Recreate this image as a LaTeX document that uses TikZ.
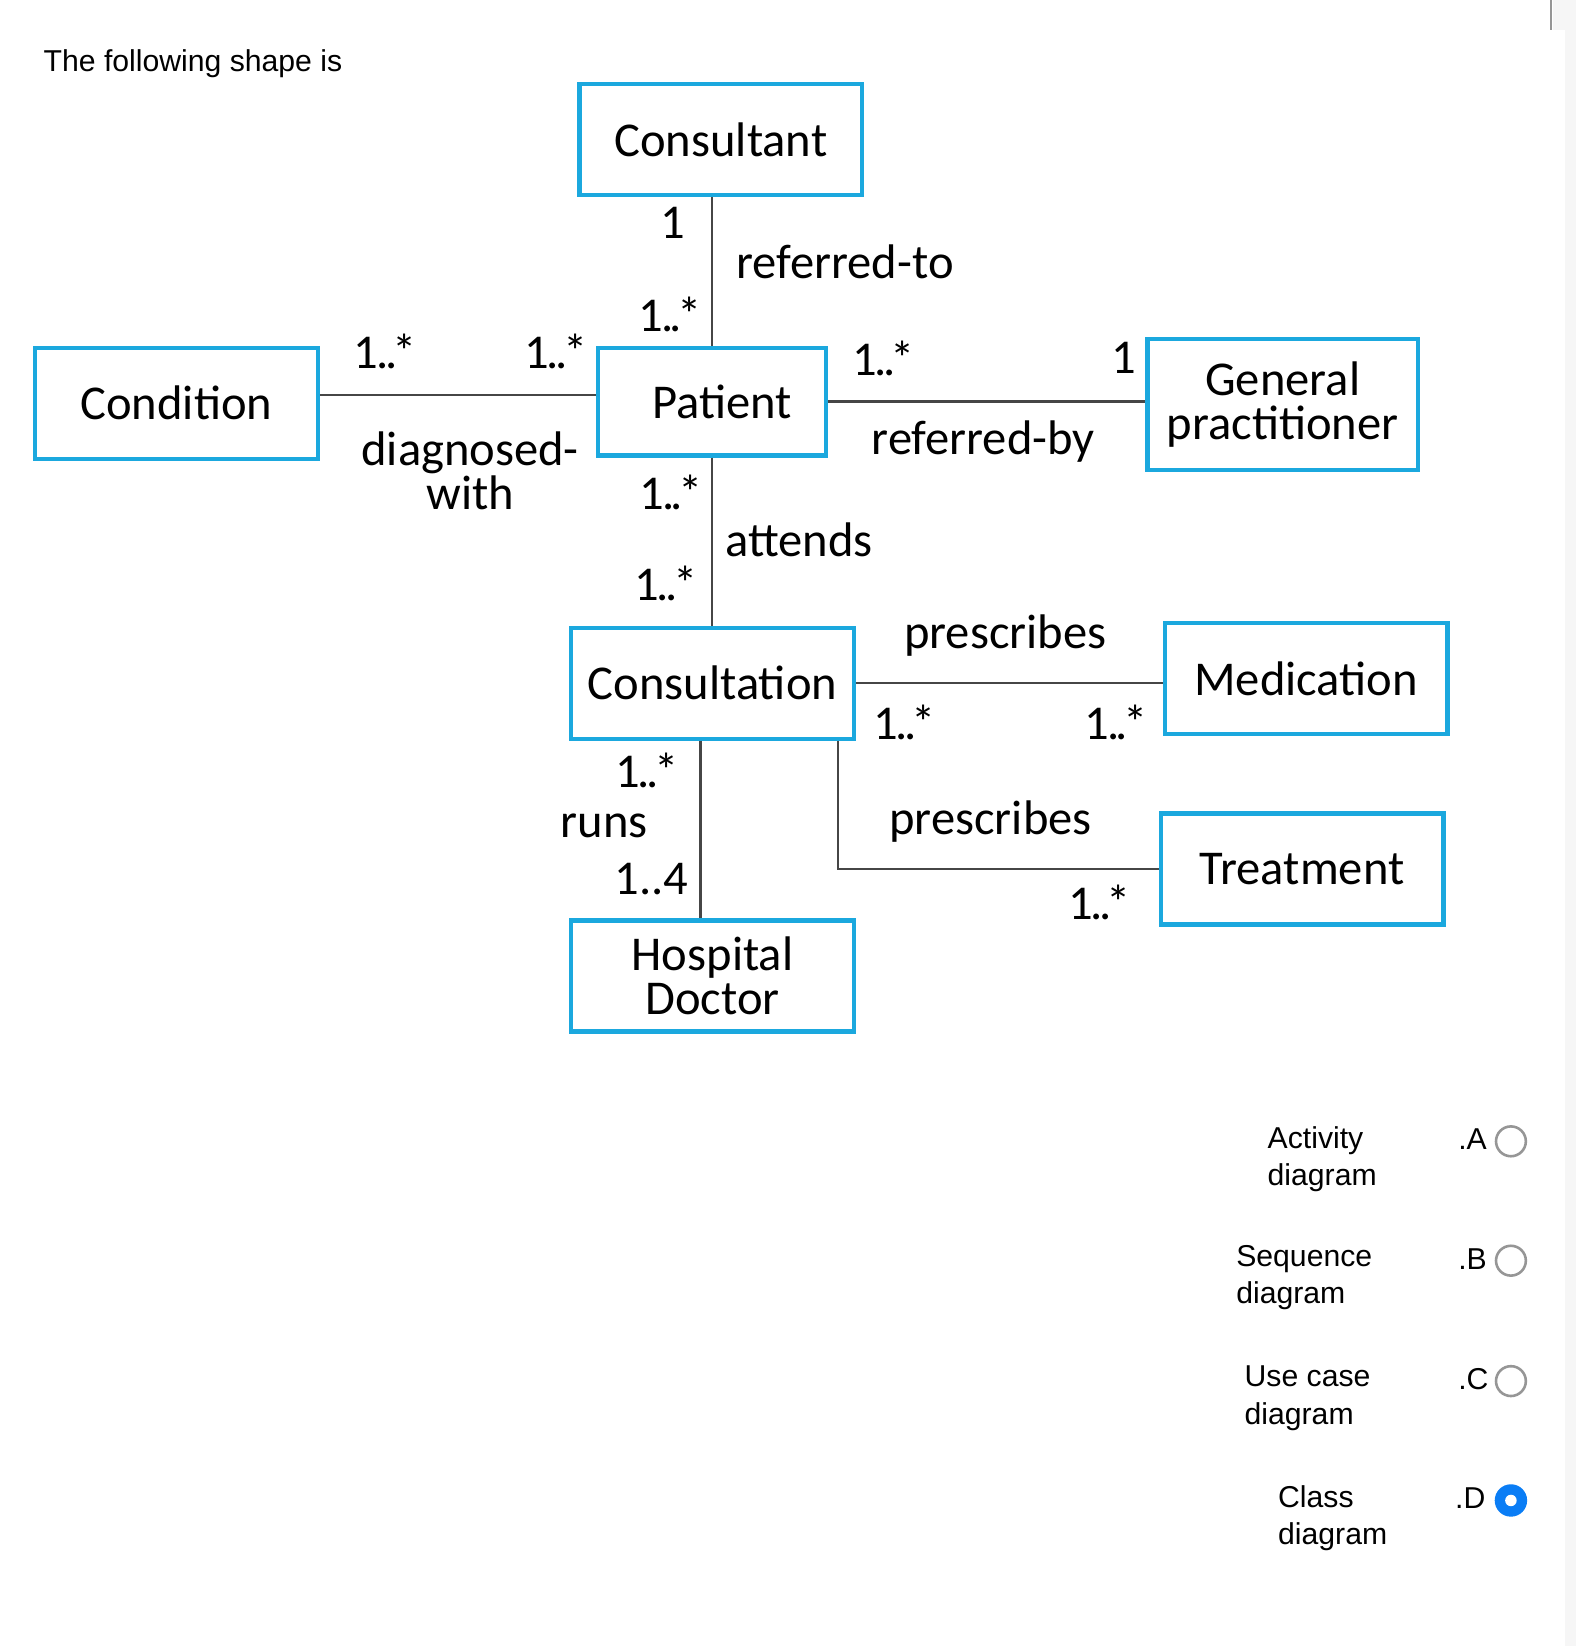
\documentclass[tikz,border=0pt]{standalone}
\usepackage{fontspec}
\setmainfont{Carlito}
\newfontfamily\quizfont{Liberation Sans}
\definecolor{boxBlue}{RGB}{27, 168, 222}
\definecolor{lineGray}{RGB}{70, 70, 70}
\definecolor{radioGray}{RGB}{150, 150, 150}
\definecolor{radioBlue}{RGB}{10, 125, 245}
\definecolor{stripGray}{RGB}{246, 246, 246}
\newcommand{\mlt}{1\kern-0.05em.\kern-0.07em.\kern-0.1em*}

\tikzset{
	cls/.style={draw=boxBlue, line width=1.15pt, minimum width=2.70cm, minimum height=1.06cm, align=center, inner sep=0pt, font=\fontsize{13.2}{12}\selectfont},
	lbl/.style={inner sep=0pt, align=center, font=\fontsize{13.2}{12}\selectfont},
	assoc/.style={draw=lineGray, line width=0.6pt},
	quiz/.style={inner sep=0pt, align=left, font=\quizfont\fontsize{8.2}{10.1}\selectfont},
	radio/.style={circle, draw=radioGray, line width=0.7pt, minimum size=0.285cm, inner sep=0pt},
}

\begin{document}
\begin{tikzpicture}
			\useasboundingbox[fill=white] (0,0) rectangle (15.05,-15.72);
			\fill[stripGray] (14.95,-0.29) rectangle (15.05,-15.72);
			\fill[stripGray] (14.83,0) rectangle (15.05,-0.29);
			\draw[radioGray, line width=0.6pt] (14.81,0) -- (14.81,-0.29);

			\draw (0.41,-0.68) node[quiz, anchor=base west] (title) {The following shape is};

			% classes
			\draw (6.885,-1.335) node[cls] (Cst) {Consultant};
			\draw (1.685,-3.85) node[cls] (Cnd) {Condition};
			\draw (6.80,-3.835) node[cls, minimum width=2.18cm, minimum height=1.03cm] (Pat) {\hspace{0.2cm}Patient};
			\draw (12.25,-3.865) node[cls, minimum width=2.58cm, minimum height=1.25cm] (GP) {General\\practitioner};
			\draw (6.805,-6.525) node[cls] (Cns) {Consultation};
			\draw (12.475,-6.48) node[cls] (Med) {Medication};
			\draw (12.435,-8.30) node[cls] (Trt) {Treatment};
			\draw (6.805,-9.32) node[cls] (HD) {Hospital\\Doctor};

			% associations
			\draw[assoc] (Pat.north) -- (Pat.north |- Cst.south);
			\draw[assoc] ([yshift=0.08cm]Cnd.east) -- ([yshift=0.08cm]Cnd.east -| Pat.west);
			\draw[assoc] (Pat.east) -- (Pat.east -| GP.west);
			\draw[assoc] (Pat.south) -- (Pat.south |- Cns.north);
			\draw[assoc] (Cns.east) -- (Cns.east -| Med.west);
			\draw[assoc] ([xshift=1.2cm]Cns.south) |- (Trt.west);
			\draw[assoc] ([xshift=-0.115cm]Cns.south) -- ([xshift=-0.115cm]HD.north);

			% labels and multiplicities
			\path (6.43,-2.13) node[lbl] (mCst) {1};
			\path (8.07,-2.50) node[lbl] (refTo) {referred-to};
			\path (6.40,-3.00) node[lbl] (mPatTop) {\mlt};
			\path (3.68,-3.36) node[lbl] (mCnd) {\mlt};
			\path (5.31,-3.36) node[lbl] (mPatLeft) {\mlt};
			\path (4.49,-4.50) node[lbl] (diag) {diagnosed-\\with};
			\path (8.44,-3.42) node[lbl] (mPatRight) {\mlt};
			\path (10.73,-3.42) node[lbl] (mGP) {1};
			\path (9.39,-4.22) node[lbl] (refBy) {referred-by};
			\path (6.41,-4.70) node[lbl] (mPatBot) {\mlt};
			\path (7.63,-5.16) node[lbl] (att) {attends};
			\path (6.36,-5.57) node[lbl] (mCnsTop) {\mlt};
			\path (9.60,-6.07) node[lbl] (presMed) {prescribes};
			\path (8.64,-6.90) node[lbl] (mCnsMed) {\mlt};
			\path (10.66,-6.90) node[lbl] (mMed) {\mlt};
			\path (6.18,-7.36) node[lbl] (mCnsBot) {\mlt};
			\path (5.77,-7.89) node[lbl] (runs) {runs};
			\path (6.22,-8.40) node[lbl] (mHD) {1..4};
			\path (9.46,-7.85) node[lbl] (presTrt) {prescribes};
			\path (10.50,-8.62) node[lbl] (mTrt) {\mlt};

			% answers
			\draw (12.10,-10.75) node[quiz, anchor=north west] (qA) {Activity\\diagram};
			\draw (11.80,-11.89) node[quiz, anchor=north west] (qB) {Sequence\\diagram};
			\draw (11.88,-13.04) node[quiz, anchor=north west] (qC) {Use case\\diagram};
			\draw (12.20,-14.18) node[quiz, anchor=north west] (qD) {Class\\diagram};

			\draw (13.92,-10.98) node[quiz, anchor=base west] (kA) {.A};
			\draw (13.92,-12.12) node[quiz, anchor=base west] (kB) {.B};
			\draw (13.92,-13.27) node[quiz, anchor=base west] (kC) {.C};
			\draw (13.89,-14.41) node[quiz, anchor=base west] (kD) {.D};

			\draw (14.43,-10.90) node[radio] (rA) {};
			\draw (14.43,-12.04) node[radio] (rB) {};
			\draw (14.43,-13.19) node[radio] (rC) {};
			\draw (14.43,-14.33) node[radio, draw=radioBlue, fill=radioBlue] (rD) {};
			\fill[white] (rD.center) circle (0.055cm);
		\end{tikzpicture}
\end{document}
